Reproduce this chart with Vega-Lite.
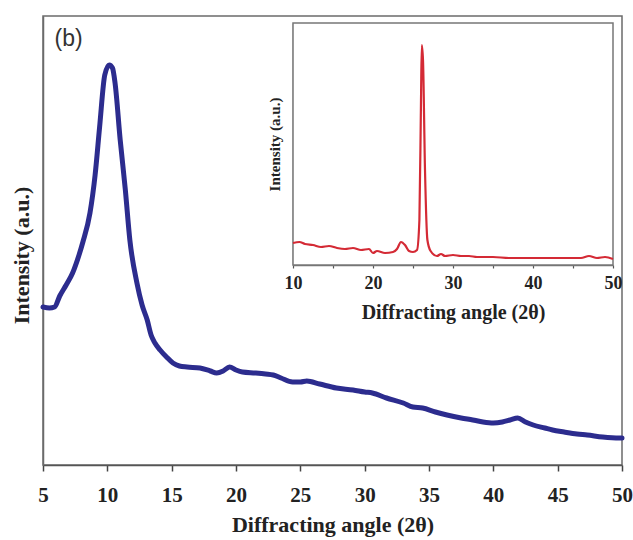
{
  "$schema": "https://vega.github.io/schema/vega-lite/v6.json",
  "width": 579,
  "height": 449,
  "autosize": {"type": "none"},
  "padding": {"left": 43, "top": 16, "right": 11, "bottom": 75},
  "background": "white",
  "config": {"view": {"stroke": "#6b6b6b", "strokeWidth": 1.5}, "font": "Liberation Serif"},
  "datasets": {
    "main": [
      {"angle": 5.0, "intensity": 158}, {"angle": 5.5, "intensity": 157}, {"angle": 5.9, "intensity": 158},
      {"angle": 6.3, "intensity": 169}, {"angle": 6.8, "intensity": 180}, {"angle": 7.3, "intensity": 192},
      {"angle": 7.8, "intensity": 210}, {"angle": 8.1, "intensity": 223}, {"angle": 8.65, "intensity": 252},
      {"angle": 9.05, "intensity": 290}, {"angle": 9.4, "intensity": 338}, {"angle": 9.8, "intensity": 390},
      {"angle": 10.15, "intensity": 400}, {"angle": 10.4, "intensity": 397}, {"angle": 10.6, "intensity": 382},
      {"angle": 11.0, "intensity": 325}, {"angle": 11.4, "intensity": 275}, {"angle": 11.75, "intensity": 225},
      {"angle": 12.3, "intensity": 182}, {"angle": 12.7, "intensity": 160}, {"angle": 13.1, "intensity": 145},
      {"angle": 13.4, "intensity": 130}, {"angle": 13.7, "intensity": 122}, {"angle": 14.1, "intensity": 115},
      {"angle": 14.6, "intensity": 108}, {"angle": 15.1, "intensity": 102}, {"angle": 15.6, "intensity": 99},
      {"angle": 16.2, "intensity": 98}, {"angle": 17.2, "intensity": 97}, {"angle": 18.0, "intensity": 94},
      {"angle": 18.5, "intensity": 92}, {"angle": 19.0, "intensity": 94}, {"angle": 19.5, "intensity": 98},
      {"angle": 20.0, "intensity": 95}, {"angle": 20.5, "intensity": 93}, {"angle": 21.5, "intensity": 92},
      {"angle": 22.3, "intensity": 91}, {"angle": 22.9, "intensity": 90}, {"angle": 23.5, "intensity": 87},
      {"angle": 24.4, "intensity": 83}, {"angle": 25.0, "intensity": 83}, {"angle": 25.5, "intensity": 84},
      {"angle": 26.5, "intensity": 81}, {"angle": 27.8, "intensity": 77}, {"angle": 29.1, "intensity": 75},
      {"angle": 30.0, "intensity": 73}, {"angle": 30.6, "intensity": 72}, {"angle": 31.7, "intensity": 67},
      {"angle": 33.0, "intensity": 62}, {"angle": 33.75, "intensity": 58}, {"angle": 34.5, "intensity": 57},
      {"angle": 35.5, "intensity": 53}, {"angle": 36.4, "intensity": 50}, {"angle": 37.5, "intensity": 47},
      {"angle": 38.4, "intensity": 45}, {"angle": 39.2, "intensity": 43}, {"angle": 40.0, "intensity": 42},
      {"angle": 40.7, "intensity": 43}, {"angle": 41.3, "intensity": 45}, {"angle": 41.9, "intensity": 47},
      {"angle": 42.5, "intensity": 43}, {"angle": 43.1, "intensity": 40}, {"angle": 44.0, "intensity": 37},
      {"angle": 44.6, "intensity": 35}, {"angle": 45.5, "intensity": 33}, {"angle": 46.5, "intensity": 31},
      {"angle": 47.3, "intensity": 30}, {"angle": 48.5, "intensity": 28}, {"angle": 49.8, "intensity": 27},
      {"angle": 50.0, "intensity": 27}
    ],
    "inset": [
      {"angle": 10.0, "intensity": 22}, {"angle": 10.8, "intensity": 23}, {"angle": 11.5, "intensity": 21},
      {"angle": 12.5, "intensity": 20}, {"angle": 13.5, "intensity": 18}, {"angle": 14.5, "intensity": 19},
      {"angle": 15.5, "intensity": 17}, {"angle": 16.5, "intensity": 16}, {"angle": 17.5, "intensity": 17},
      {"angle": 18.5, "intensity": 15}, {"angle": 19.5, "intensity": 16}, {"angle": 20.0, "intensity": 12},
      {"angle": 20.5, "intensity": 14}, {"angle": 21.5, "intensity": 12}, {"angle": 22.5, "intensity": 13},
      {"angle": 23.0, "intensity": 16}, {"angle": 23.5, "intensity": 23}, {"angle": 24.0, "intensity": 20},
      {"angle": 24.5, "intensity": 14}, {"angle": 25.0, "intensity": 13}, {"angle": 25.5, "intensity": 15},
      {"angle": 25.8, "intensity": 45}, {"angle": 26.0, "intensity": 165}, {"angle": 26.1, "intensity": 220},
      {"angle": 26.25, "intensity": 205}, {"angle": 26.5, "intensity": 95}, {"angle": 26.8, "intensity": 25},
      {"angle": 27.2, "intensity": 14}, {"angle": 28.0, "intensity": 9}, {"angle": 28.5, "intensity": 11},
      {"angle": 29.0, "intensity": 9}, {"angle": 30.0, "intensity": 10}, {"angle": 31.0, "intensity": 9},
      {"angle": 32.0, "intensity": 9}, {"angle": 33.0, "intensity": 8}, {"angle": 35.0, "intensity": 8},
      {"angle": 37.0, "intensity": 7}, {"angle": 39.0, "intensity": 7}, {"angle": 40.0, "intensity": 7},
      {"angle": 42.0, "intensity": 7}, {"angle": 44.0, "intensity": 7}, {"angle": 46.0, "intensity": 7},
      {"angle": 47.0, "intensity": 9}, {"angle": 48.0, "intensity": 7}, {"angle": 49.0, "intensity": 8},
      {"angle": 50.0, "intensity": 6}
    ]
  },
  "layer": [
    {
      "layer": [
        {
          "data": {"name": "main"},
          "mark": {"type": "line", "color": "#2c2c8e", "strokeWidth": 5, "strokeCap": "round", "strokeJoin": "round", "interpolate": "monotone"},
          "encoding": {
            "x": {
              "field": "angle", "type": "quantitative",
              "scale": {"domain": [5, 50], "nice": false, "zero": false},
              "axis": {
                "values": [5, 7.5, 10, 12.5, 15, 17.5, 20, 22.5, 25, 27.5, 30, 32.5, 35, 37.5, 40, 42.5, 45, 47.5, 50],
                "labelExpr": "datum.value % 5 == 0 ? datum.label : ''",
                "title": "Diffracting angle (2θ)", "grid": false, "labelFlush": false,
                "domainColor": "#555555", "domainWidth": 1.5,
                "tickColor": "#444444", "tickSize": 6, "tickWidth": 1.5,
                "labelFont": "Liberation Serif", "labelFontWeight": "bold", "labelFontSize": 21, "labelColor": "#222222", "labelPadding": 13,
                "titleFont": "Liberation Serif", "titleFontWeight": "bold", "titleFontSize": 22, "titleColor": "#222222", "titlePadding": 9
              }
            },
            "y": {
              "field": "intensity", "type": "quantitative",
              "scale": {"domain": [0, 449], "nice": false},
              "axis": {
                "title": "Intensity (a.u.)", "ticks": false, "labels": false, "grid": false,
                "domainColor": "#6b6b6b", "domainWidth": 1.5,
                "titleFont": "Liberation Serif", "titleFontWeight": "bold", "titleFontSize": 22, "titleColor": "#222222", "titlePadding": 10,
                "titleY": 239
              }
            }
          }
        },
        {
          "data": {"values": [{"label": "(b)"}]},
          "mark": {"type": "text", "font": "Liberation Sans", "fontSize": 23, "align": "left", "baseline": "middle", "color": "#333333"},
          "encoding": {
            "text": {"field": "label"},
            "x": {"datum": 5.9, "type": "quantitative"},
            "y": {"datum": 426, "type": "quantitative"}
          }
        }
      ]
    },
    {
      "layer": [
        {
          "data": {"values": [{"x0": 10, "x1": 50, "y0": 0, "y1": 242}]},
          "mark": {"type": "rect", "fill": "white", "stroke": "#777777", "strokeWidth": 1.5},
          "encoding": {
            "x": {"field": "x0", "type": "quantitative", "scale": {"domain": [10, 50], "range": [250, 570], "nice": false, "zero": false}},
            "x2": {"field": "x1"},
            "y": {"field": "y0", "type": "quantitative", "scale": {"domain": [0, 242], "range": [249, 7], "nice": false}},
            "y2": {"field": "y1"}
          }
        },
        {
          "data": {"name": "inset"},
          "mark": {"type": "line", "color": "#d42a35", "strokeWidth": 2.2, "interpolate": "monotone"},
          "encoding": {
            "x": {
              "field": "angle", "type": "quantitative",
              "scale": {"domain": [10, 50], "range": [250, 570], "nice": false, "zero": false},
              "axis": {
                "orient": "bottom", "offset": -200,
                "values": [10, 15, 20, 25, 30, 35, 40, 45, 50],
                "labelExpr": "datum.value % 10 == 0 ? datum.label : ''",
                "title": "Diffracting angle (2θ)", "grid": false, "labelFlush": false,
                "domainColor": "#777777", "domainWidth": 1.5,
                "tickColor": "#555555", "tickSize": 3, "tickWidth": 1.2,
                "labelFont": "Liberation Serif", "labelFontWeight": "bold", "labelFontSize": 18, "labelColor": "#222222", "labelPadding": 6,
                "titleFont": "Liberation Serif", "titleFontWeight": "bold", "titleFontSize": 20, "titleColor": "#222222", "titlePadding": 10
              }
            },
            "y": {
              "field": "intensity", "type": "quantitative",
              "scale": {"domain": [0, 242], "range": [249, 7], "nice": false},
              "axis": {
                "orient": "left", "offset": -250,
                "title": "Intensity (a.u.)", "ticks": false, "labels": false, "grid": false,
                "domainColor": "#777777", "domainWidth": 1.5,
                "titleFont": "Liberation Serif", "titleFontWeight": "bold", "titleFontSize": 15, "titleColor": "#222222", "titlePadding": 11
              }
            }
          }
        }
      ]
    }
  ],
  "resolve": {"scale": {"x": "independent", "y": "independent"}, "axis": {"x": "independent", "y": "independent"}}
}
